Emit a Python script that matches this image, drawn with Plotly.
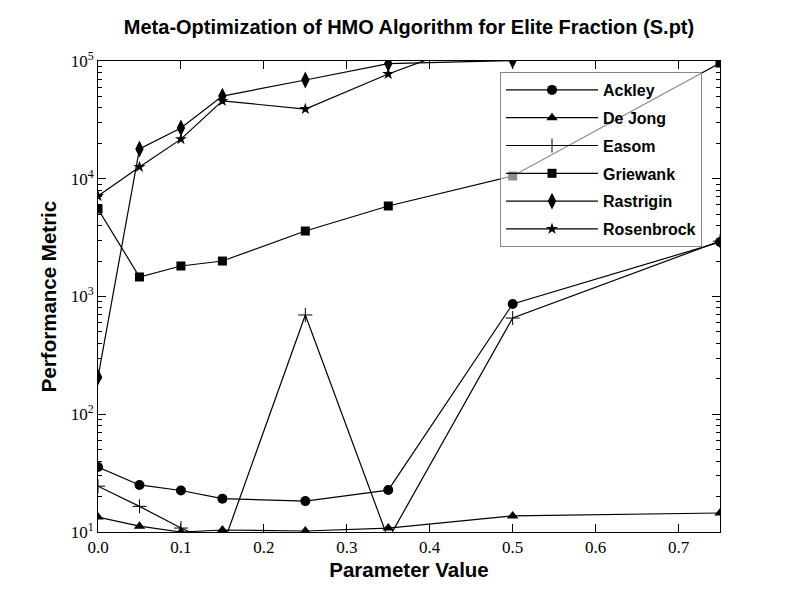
import plotly.graph_objects as go

x_vals = [0.0, 0.05, 0.1, 0.15, 0.25, 0.35, 0.5, 0.75]

ackley = [35.6, 25.1, 22.5, 19.2, 18.3, 22.7, 864, 2900]
de_jong = [13.4, 11.2, 10.0, 10.4, 10.2, 10.8, 13.7, 14.5]
easom = [24.5, 16.5, 10.8, 7.5, 697, 8.7, 656, 2950]
griewank = [5535, 1465, 1816, 2001, 3597, 5870, 10550, 96100]
rastrigin = [207, 17900, 27000, 50400, 69000, 95000, 101000, 105000]
rosenbrock = [7130, 12600, 21700, 45800, 39100, 77600, 190000, 250000]

series_names = ["Ackley", "De Jong", "Easom", "Griewank", "Rastrigin", "Rosenbrock"]
series_vals = [ackley, de_jong, easom, griewank, rastrigin, rosenbrock]

x_ticks = [0.0, 0.1, 0.2, 0.3, 0.4, 0.5, 0.6, 0.7]
x_ticktext = ["0.0", "0.1", "0.2", "0.3", "0.4", "0.5", "0.6", "0.7"]
y_ticks = [10, 100, 1000, 10000, 100000]
y_ticktext = ["10<sup>1</sup>", "10<sup>2</sup>", "10<sup>3</sup>", "10<sup>4</sup>", "10<sup>5</sup>"]
y_minor_ticks = [m * 10 ** k for k in range(1, 5) for m in range(2, 10)]

markers = [
    dict(symbol="circle", size=10),
    dict(symbol="triangle-up", size=10),
    dict(symbol="cross-thin", size=10, line=dict(width=1, color="black")),
    dict(symbol="square", size=9),
    dict(symbol="diamond-tall", size=12),
    dict(symbol="star", size=9),
]

fig = go.Figure()
for i, (name, vals) in enumerate(zip(series_names, series_vals)):
    m = dict(color="black")
    m.update(markers[i])
    fig.add_trace(go.Scatter(
        x=x_vals, y=vals, name=name, mode="lines+markers",
        line=dict(color="black", width=1.2),
        marker=m, legendgroup=name, cliponaxis=True,
    ))

serif = "Liberation Serif"
sans = "Liberation Sans"

fig.update_layout(
    width=800, height=595,
    paper_bgcolor="white", plot_bgcolor="white",
    margin=dict(l=98, r=80, t=61, b=63),
    title=dict(text="<b>Meta-Optimization of HMO Algorithm for Elite Fraction (S.pt)</b>",
               x=409 / 800, xanchor="center", y=1 - 27 / 595, yanchor="middle",
               font=dict(family=sans, size=20, color="black")),
    legend=dict(x=(500 - 98) / 622, y=(532 - 72) / 471, xanchor="left", yanchor="top",
                bgcolor="rgba(255,255,255,0.55)", bordercolor="#888888", borderwidth=1,
                font=dict(family=sans, size=16, color="black", weight="bold"),
                tracegroupgap=4, itemwidth=92),
    showlegend=True,
)

fig.update_xaxes(
    range=[0, 0.75], tickvals=x_ticks, ticktext=x_ticktext,
    ticks="inside", ticklen=8, tickcolor="black", mirror="allticks",
    showline=True, linecolor="black", linewidth=1, showgrid=False, zeroline=False,
    tickfont=dict(family=serif, size=17, color="black"),
    title=dict(text="<b>Parameter Value</b>", font=dict(family=sans, size=20.5, color="black"), standoff=6),
)
fig.update_yaxes(
    type="log", range=[1, 5], tickvals=y_ticks, ticktext=y_ticktext,
    ticks="inside", ticklen=8, tickcolor="black", mirror="allticks",
    showline=True, linecolor="black", linewidth=1, showgrid=False, zeroline=False,
    tickfont=dict(family=serif, size=17, color="black"),
    minor=dict(ticks="inside", ticklen=4, tickcolor="black", tickvals=y_minor_ticks, showgrid=False),
    title=dict(text="<b>Performance Metric</b>", font=dict(family=sans, size=20.5, color="black"), standoff=8),
)

fig.write_html("out.html")
